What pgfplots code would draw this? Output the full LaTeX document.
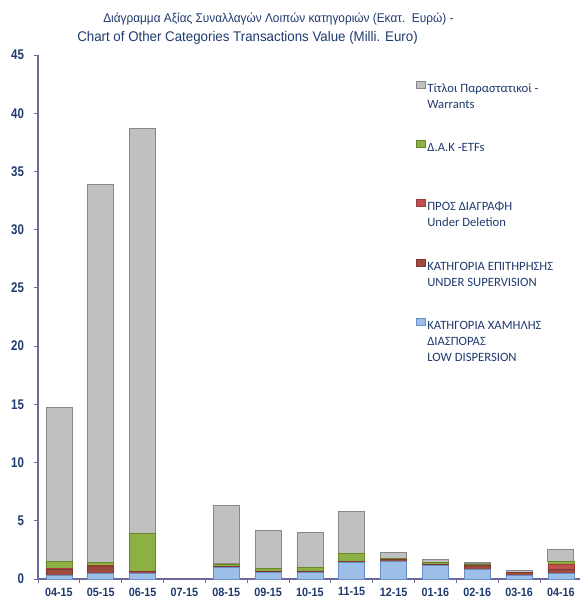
\documentclass[border=0pt]{standalone}
\usepackage{pgfplots}
\pgfplotsset{compat=1.18}
\usepackage{pgfplotstable}
\usepackage{fontspec}
\setmainfont{Liberation Sans}
\newfontfamily\narrowfont{Liberation Sans}[FakeStretch=0.82]
\newfontfamily\ticknarrow{Liberation Sans}[FakeStretch=0.9]
\newfontfamily\titlefont{Liberation Sans}[FakeStretch=0.95]
\newfontfamily\titlefontA{Liberation Sans}[FakeStretch=0.935]
\newfontfamily\legfont{Carlito}
\definecolor{navy}{HTML}{1F3A6E}
\definecolor{axisc}{HTML}{6B6B9B}
\definecolor{grayF}{HTML}{C0C0C0}
\definecolor{grayD}{HTML}{888888}
\definecolor{greenF}{HTML}{8CB043}
\definecolor{greenD}{HTML}{66862A}
\definecolor{redF}{HTML}{C0504D}
\definecolor{redD}{HTML}{A03C3A}
\definecolor{supF}{HTML}{9E4A3F}
\definecolor{supD}{HTML}{7E3A30}
\definecolor{blueF}{HTML}{9DBEE6}
\definecolor{blueD}{HTML}{6A8EC6}
\pgfplotstableread{
x blue sup del etf war
0 0.3 0.5 0.1 0.6 13.2
1 0.5 0.6 0.1 0.2 32.5
2 0.5 0.2 0.0 3.2 34.8
3 0.0 0.0 0.0 0.0 0.0
4 1.0 0.1 0.0 0.2 5.0
5 0.6 0.1 0.0 0.2 3.3
6 0.6 0.1 0.0 0.3 3.0
7 1.4 0.1 0.0 0.7 3.6
8 1.5 0.2 0.0 0.1 0.5
9 1.2 0.1 0.0 0.1 0.3
10 0.8 0.4 0.0 0.1 0.15
11 0.3 0.3 0.0 0.0 0.15
12 0.5 0.3 0.5 0.2 1.0
}\datatable
\newcommand{\legtxt}[1]{\raisebox{0pt}[8pt][0pt]{\parbox[t]{150pt}{\legfont\fontsize{9.5pt}{12pt}\selectfont\leavevmode\color{navy}#1}}}
\begin{document}
\begin{tikzpicture}
\begin{axis}[name=ax, scale only axis, width=407.85pt, height=393pt,
  ybar stacked, bar width=19.5pt,
  xmin=-0.5, xmax=12.5, ymin=0, ymax=45,
  ytick={0,5,...,45},
  xtick={0,...,12},
  xticklabels={04-15,05-15,06-15,07-15,08-15,09-15,10-15,11-15,12-15,01-16,02-16,03-16,04-16},
  minor xtick={-0.5,0.5,...,12.5},
  major x tick style={draw=none},
  axis x line*=bottom, axis y line*=left,
  axis line style={color=axisc, line width=0.8pt, -},
  tick align=outside, tick style={color=axisc, line width=0.6pt},
  major tick length=3pt, minor tick length=3pt,
  /pgf/number format/assume math mode=true,
  yticklabel style={font=\narrowfont\bfseries\fontsize{10.5pt}{12pt}\selectfont, color=navy, xshift=-4pt},
  xticklabel style={font=\ticknarrow\bfseries\fontsize{9pt}{10pt}\selectfont, color=navy},
  legend style={draw=none, fill=none, at={(0.695,0.9523)}, anchor=north west,
    row sep=33.0pt, inner sep=0pt, nodes={inner sep=1pt}},
  legend cell align=left, reverse legend,
  legend image code/.code={\fill[#1] (0pt,0pt) rectangle (6.75pt,5.25pt);},
]
\addplot[fill=blueF, draw=blueD, line width=0.5pt] table[x=x,y=blue]{\datatable};
\addlegendentry{\legtxt{ΚΑΤΗΓΟΡΙΑ ΧΑΜΗΛΗΣ\\ΔΙΑΣΠΟΡΑΣ\\LOW DISPERSION}}
\addplot[fill=supF, draw=supD, line width=0.5pt] table[x=x,y=sup]{\datatable};
\addlegendentry{\legtxt{ΚΑΤΗΓΟΡΙΑ ΕΠΙΤΗΡΗΣΗΣ\\UNDER SUPERVISION}}
\addplot[fill=redF, draw=redD, line width=0.5pt] table[x=x,y=del]{\datatable};
\addlegendentry{\legtxt{ΠΡΟΣ ΔΙΑΓΡΑΦΗ\\Under Deletion}}
\addplot[fill=greenF, draw=greenD, line width=0.5pt] table[x=x,y=etf]{\datatable};
\addlegendentry{\legtxt{Δ.Α.Κ -ETFs}}
\addplot[fill=grayF, draw=grayD, line width=0.6pt] table[x=x,y=war]{\datatable};
\addlegendentry{\legtxt{Τίτλοι Παραστατικοί -\\Warrants}}
\end{axis}
\node[anchor=base west, inner sep=0pt, text=navy, font=\titlefontA\fontsize{9.5pt}{11pt}\selectfont]
  at ([xshift=48.75pt, yshift=417pt]ax.south west) {Διάγραμμα Αξίας Συναλλαγών Λοιπών κατηγοριών (Εκατ.\ \ Ευρώ) -};
\node[anchor=base west, inner sep=0pt, text=navy, font=\titlefont\fontsize{10.5pt}{12pt}\selectfont]
  at ([xshift=29.25pt, yshift=402.75pt]ax.south west) {Chart of Other Categories Transactions Value (Milli. Euro)};
\pgfresetboundingbox
\path[use as bounding box] ([xshift=-28.5pt,yshift=-14.25pt]ax.south west) rectangle ([xshift=406.5pt,yshift=434.25pt]ax.south west);
\end{tikzpicture}
\end{document}
